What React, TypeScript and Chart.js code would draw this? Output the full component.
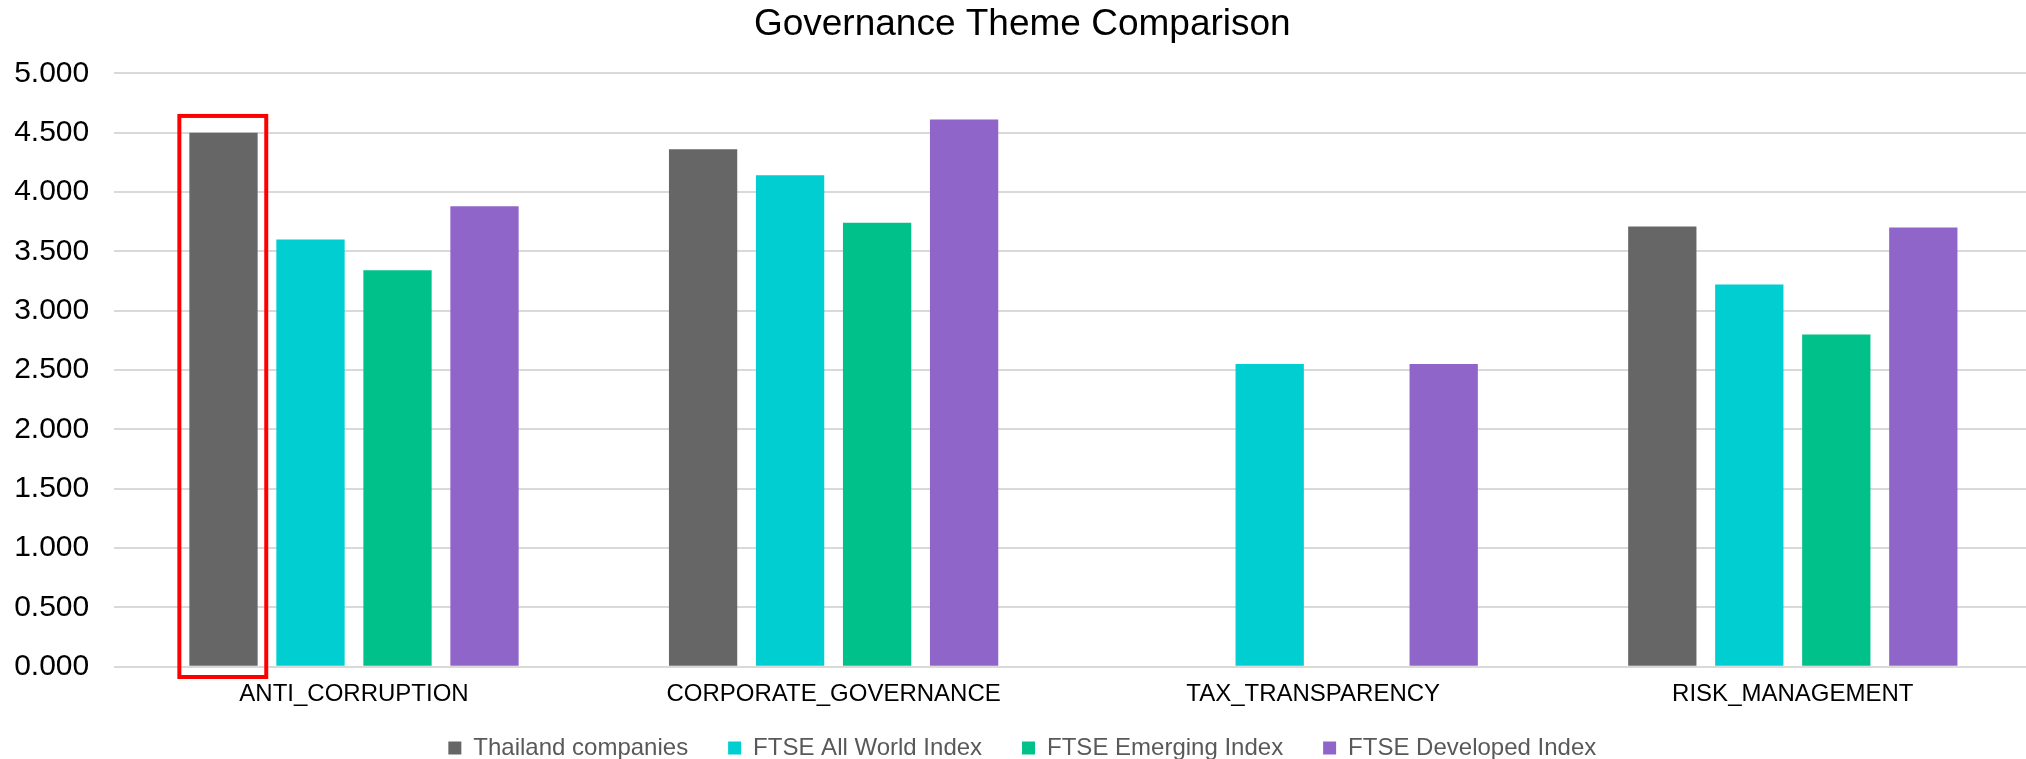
import React, { useEffect, useRef } from "react";
import { Chart, registerables } from "chart.js";

Chart.register(...registerables);

const titleText = "Governance Theme Comparison";
const categories = ["ANTI_CORRUPTION", "CORPORATE_GOVERNANCE", "TAX_TRANSPARENCY", "RISK_MANAGEMENT"];
const seriesNames = ["Thailand companies", "FTSE All World Index", "FTSE Emerging Index", "FTSE Developed Index"];
const thailand = [4.5, 4.36, null, 3.71];
const ftseAllWorld = [3.6, 4.14, 2.55, 3.22];
const ftseEmerging = [3.34, 3.74, null, 2.8];
const ftseDeveloped = [3.88, 4.61, 2.55, 3.7];
const seriesColors = ["#666666", "#00CED1", "#00C18A", "#9065CA"];
const yMin = 0;
const yMax = 5;
const yStep = 0.5;
const highlightDataset = 0;
const highlightIndex = 0;

const FONT = "'Liberation Sans', Arial, sans-serif";

const highlightPlugin = {
  id: "highlightBox",
  afterDraw(chart: any) {
    const meta = chart.getDatasetMeta(highlightDataset);
    const el = meta && meta.data[highlightIndex];
    if (!el) return;
    const p = el.getProps(["x", "y", "base", "width"], true);
    const ctx = chart.ctx;
    ctx.save();
    ctx.strokeStyle = "#FF0000";
    ctx.lineWidth = 4;
    const left = p.x - p.width / 2 - 10;
    const right = p.x + p.width / 2 + 8.6;
    const top = p.y - 16.7;
    const bottom = p.base + 11.3;
    ctx.strokeRect(left, top, right - left, bottom - top);
    ctx.restore();
  },
};

export default function App() {
  const ref = useRef<HTMLCanvasElement | null>(null);

  useEffect(() => {
    if (!ref.current) return;
    const seriesData = [thailand, ftseAllWorld, ftseEmerging, ftseDeveloped];
    const chart = new Chart(ref.current, {
      type: "bar",
      data: {
        labels: categories,
        datasets: seriesNames.map((name, i) => ({
          label: name,
          data: seriesData[i],
          backgroundColor: seriesColors[i],
          borderWidth: 0,
          categoryPercentage: 0.7256,
          barPercentage: 0.785,
        })),
      },
      options: {
        responsive: false,
        animation: false,
        devicePixelRatio: 1,
        layout: { padding: { left: 12, right: 27.4, top: 0, bottom: 0 } },
        plugins: {
          title: {
            display: true,
            text: titleText,
            color: "#000000",
            font: { family: FONT, size: 37, weight: "normal", lineHeight: 1.2 },
            padding: { top: 2.3, bottom: 26.6 },
          },
          legend: {
            display: true,
            position: "bottom",
            labels: {
              color: "#595959",
              font: { family: FONT, size: 24 },
              boxWidth: 13,
              boxHeight: 13,
              padding: 13.3,
              generateLabels(chart: any) {
                const items = Chart.defaults.plugins.legend.labels.generateLabels(chart);
                return items.map((it: any, i: number) => ({
                  ...it,
                  text: i < items.length - 1 ? it.text + "    " : it.text,
                  fontColor: "#595959",
                  lineWidth: 0,
                }));
              },
            },
          },
          tooltip: { enabled: false },
        },
        scales: {
          x: {
            grid: { display: false, drawTicks: false },
            border: { display: false },
            ticks: {
              color: "#000000",
              font: { family: FONT, size: 24, lineHeight: 1.2 },
              padding: 13.6,
              maxRotation: 0,
              autoSkip: false,
            },
          },
          y: {
            min: yMin,
            max: yMax,
            grid: { color: "#D9D9D9", lineWidth: 2, drawTicks: false },
            border: { display: false },
            ticks: {
              stepSize: yStep,
              color: "#000000",
              font: { family: FONT, size: 30 },
              padding: 25,
              callback: (v: any) => Number(v).toFixed(3),
            },
            afterFit(scale: any) {
              scale.width = 102.2;
            },
          },
        },
      },
      plugins: [highlightPlugin],
    });
    return () => chart.destroy();
  }, []);

  return (
    <div
      style={{
        position: "fixed",
        left: 0,
        top: 0,
        width: 2026,
        height: 759,
        overflow: "hidden",
        background: "#ffffff",
      }}
    >
      <canvas ref={ref} width={2060} height={770} style={{ display: "block", width: 2060, height: 770 }} />
    </div>
  );
}
